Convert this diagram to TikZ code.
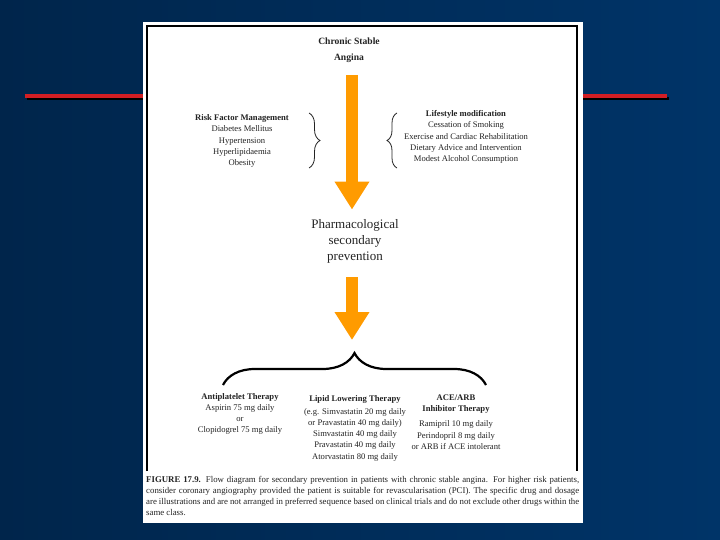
\documentclass[tikz,border=0pt]{standalone}
\usepackage{fontspec}
\setmainfont{Liberation Serif}
\usetikzlibrary{positioning, arrows.meta, decorations.pathreplacing}
\usepackage{xcolor}
\definecolor{slidenavy}{RGB}{0,37,75}
\definecolor{slideblue}{RGB}{0,52,104}
\definecolor{barred}{RGB}{210,30,35}
\definecolor{floworange}{RGB}{255,155,0}
\definecolor{scantext}{RGB}{35,35,35}

\begin{document}
\begin{tikzpicture}[x=1pt, y=-1pt]
  \tikzset{
    heading/.style={
      font=\fontsize{9.6}{11}\selectfont\bfseries,
      text=scantext,
      align=center
    },
    item/.style={
      font=\fontsize{8.6}{11.2}\selectfont,
      text=scantext,
      align=center
    },
    bigtext/.style={
      font=\fontsize{13}{16}\selectfont,
      text=scantext,
      align=center
    },
    flow/.style={
      draw=floworange,
      line width=12pt,
      -{Triangle[width=33pt,length=28pt]}
    },
    smallbrace/.style={
      draw=scantext,
      line width=0.8pt,
      decorate
    }
  }

  % Slide background and title bar
  \useasboundingbox (0,0) rectangle (720,540);
  \shade[left color=slidenavy, right color=slideblue] (0,0) rectangle (720,540);
  \draw[black, line width=3pt] (27,98.5) -- (669,98.5);
  \draw[barred, line width=3.5pt] (25,96) -- (667,96);

  % The scanned page
  \fill[white] (143,22) rectangle (583,523);
  \draw[black, line width=1.1pt] (147,471) -- (147,26) -- (577,26) -- (577,471);

  % Top of the flow
  \node[heading] at (349,41) (title1) {Chronic Stable};
  \node[heading] at (349,58) (title2) {Angina};

  \node[item] at (242,141) (risk) {
    \textbf{Risk Factor Management}\\
    Diabetes Mellitus\\
    Hypertension\\
    Hyperlipidaemia\\
    Obesity
  };
  \node[item] at (466,137) (life) {
    \textbf{Lifestyle modification}\\
    Cessation of Smoking\\
    Exercise and Cardiac Rehabilitation\\
    Dietary Advice and Intervention\\
    Modest Alcohol Consumption
  };

  % Braces beside the first arrow
  \coordinate (riska) at (309,113);
  \coordinate (riskb) at (309,168);
  \draw[smallbrace, decoration={brace, amplitude=11pt}] (riska) -- (riskb);
  \coordinate (lifea) at (397,168);
  \coordinate (lifeb) at (397,113);
  \draw[smallbrace, decoration={brace, amplitude=10pt}] (lifea) -- (lifeb);

  \node[bigtext] at (355,241) (pharma) {
    Pharmacological\\
    secondary\\
    prevention
  };

  % Orange arrows
  \draw[flow] ([yshift=-9pt]title2.south -| 352,0) -- ([yshift=6pt]pharma.north -| 352,0);

  \coordinate (bracetop) at (354,352);
  \draw[flow] ([yshift=-11pt]pharma.south -| 352,0) -- ([yshift=12pt]bracetop -| 352,0);

  % Big brace over the three therapies
  \coordinate (bl) at (223,385);
  \coordinate (br) at (486,385);
  \draw[black, line width=2.2pt, decorate, decoration={brace, amplitude=32pt}] (bl) -- (br);

  % Therapies
  \node[item] at (240,414) (anti) {
    \textbf{Antiplatelet Therapy}\\
    Aspirin 75 mg daily\\
    or\\
    Clopidogrel 75 mg daily
  };
  \node[item] at (355,428) (lipid) {
    \textbf{Lipid Lowering Therapy}\\[2pt]
    (e.g. Simvastatin 20 mg daily\\
    or Pravastatin 40 mg daily)\\
    Simvastatin 40 mg daily\\
    Pravastatin 40 mg daily\\
    Atorvastatin 80 mg daily
  };
  \node[item] at (456,422) (ace) {
    \textbf{ACE/ARB}\\
    \textbf{Inhibitor Therapy}\\[4pt]
    Ramipril 10 mg daily\\
    Perindopril 8 mg daily\\
    or ARB if ACE intolerant
  };

  % Caption under the figure
  \node[anchor=north west, inner sep=0pt, text width=433pt, align=justify,
        font=\fontsize{8.8}{11.2}\selectfont, text=scantext] at (146,476) (caption) {
    \textbf{FIGURE 17.9.} Flow diagram for secondary prevention in patients with chronic stable angina. For higher risk patients,\linebreak
    consider coronary angiography provided the patient is suitable for revascularisation (PCI). The specific drug and dosage\linebreak
    are illustrations and are not arranged in preferred sequence based on clinical trials and do not exclude other drugs within the\linebreak
    same class.
  };

\end{tikzpicture}
\end{document}
